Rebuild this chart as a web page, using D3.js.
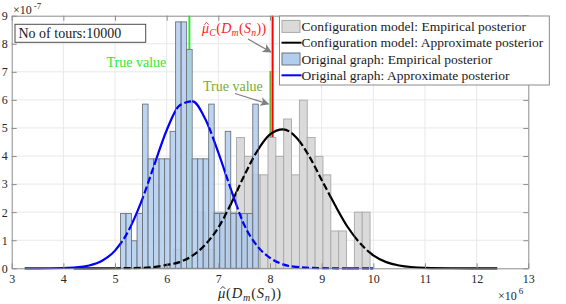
<!DOCTYPE html>
<html>
<head>
<meta charset="utf-8">
<script src="https://cdn.jsdelivr.net/npm/d3@7"></script>
<style>
body { margin: 0; background: #fff; }
text { font-family: "Liberation Serif", "Times New Roman", serif; }
</style>
</head>
<body>
<svg width="566" height="304"></svg>
<script>
// x in units of 1e6, y (density) in units of 1e-7

// Original graph: empirical posterior (25 bins)
var origBinStart = 5.106, origBinWidth = 0.1067;
var origHeights = [1.95, 1.95, 0.98, 1.95, 5.85, 3.90, 3.90, 3.90, 3.90, 4.88, 8.78, 8.78, 7.80,
                   3.90, 3.90, 3.90, 5.85, 1.95, 1.95, 4.88, 1.95, 1.95, 1.95, 1.95, 5.85];

// Configuration model: empirical posterior (25 bins)
var confBinStart = 6.137, confBinWidth = 0.152;
var confHeights = [0.67, 0, 0, 2.00, 0.67, 2.00, 2.00, 2.00, 4.66, 3.99, 3.33, 3.33, 4.66,
                   3.99, 5.32, 3.33, 5.99, 4.66, 3.99, 3.33, 1.33, 1.33, 0, 2.00, 2.00];

// Original graph: approximate posterior
var origCurveX = [3.25, 3.5, 4.0, 4.25, 4.5, 4.75, 5.0, 5.25, 5.5, 5.75, 6.0, 6.25, 6.5,
                  6.75, 7.0, 7.25, 7.5, 7.75, 8.0, 8.25, 8.5, 9.0, 9.5, 10.0];
var origCurveY = [0, 0, 0.01, 0.03, 0.10, 0.27, 0.63, 1.30, 2.33, 3.63, 4.92, 5.80, 5.95,
                  5.31, 4.12, 2.78, 1.55, 0.80, 0.37, 0.14, 0.05, 0.004, 0, 0];

// Configuration model: approximate posterior
var confCurveX = [4.2, 4.5, 5.0, 5.5, 5.75, 6.0, 6.25, 6.5, 6.75, 7.0, 7.25, 7.5, 7.75, 8.0,
                  8.25, 8.5, 8.75, 9.0, 9.25, 9.5, 9.75, 10.0, 10.25, 10.5, 11.0, 11.5, 12.0, 12.4];
var confCurveY = [0, 0, 0.002, 0.015, 0.045, 0.12, 0.22, 0.45, 0.85, 1.45, 2.32, 3.30, 4.17, 4.77,
                  4.95, 4.68, 4.02, 3.15, 2.28, 1.48, 0.88, 0.46, 0.22, 0.10, 0.015, 0.002, 0, 0];

var trueValueOrig = 6.44,   // green line
    trueValueConf = 8.01,   // olive line
    muHatC = 8.05;          // red line

var xTicks = [3, 4, 5, 6, 7, 8, 9, 10, 11, 12, 13];
var yTicks = [0, 1, 2, 3, 4, 5, 6, 7, 8, 9];
var legendLabels = ["Configuration model: Empirical posterior",
                    "Configuration model: Approximate posterior",
                    "Original graph: Empirical posterior",
                    "Original graph: Approximate posterior"];

var svg = d3.select("svg"),
    margin = {top: 15.7, right: 37.7, bottom: 35.7, left: 11.7},
    width = +svg.attr("width") - margin.left - margin.right,
    height = +svg.attr("height") - margin.top - margin.bottom,
    g = svg.append("g").attr("transform", "translate(" + margin.left + "," + margin.top + ")");

var x = d3.scaleLinear().domain([3, 13]).range([0, width]);
var y = d3.scaleLinear().domain([0, 9]).range([height, 0]);

var frameColor = "#8c8c8c", labelColor = "#262626";

function bins(start, w, heights) {
    return heights.map(function(h, i) { return {x0: start + i * w, x1: start + (i + 1) * w, h: h}; })
        .filter(function(d) { return d.h > 0; });
}
var origBins = bins(origBinStart, origBinWidth, origHeights),
    confBins = bins(confBinStart, confBinWidth, confHeights),
    allBins = confBins.concat(origBins);

// grid
g.append("g").selectAll("line").data(xTicks.slice(1, -1)).enter().append("line")
    .attr("x1", d => x(d)).attr("x2", d => x(d)).attr("y1", 0).attr("y2", height)
    .attr("stroke", "#e8e8e8");
g.append("g").selectAll("line").data(yTicks.slice(1, -1)).enter().append("line")
    .attr("y1", d => y(d)).attr("y2", d => y(d)).attr("x1", 0).attr("x2", width)
    .attr("stroke", "#e8e8e8");

// vertical reference lines (behind the bars)
g.append("line").attr("x1", x(trueValueOrig)).attr("x2", x(trueValueOrig))
    .attr("y1", y(0)).attr("y2", y(9)).attr("stroke", "#2ee82e").attr("stroke-width", 2);
g.append("line").attr("x1", x(muHatC)).attr("x2", x(muHatC))
    .attr("y1", y(0)).attr("y2", y(9)).attr("stroke", "#ff0000").attr("stroke-width", 2);
g.append("line").attr("x1", x(trueValueConf)).attr("x2", x(trueValueConf))
    .attr("y1", y(0)).attr("y2", y(7.03)).attr("stroke", "#77ac30").attr("stroke-width", 2);

// histograms
function drawBars(data, fill, opacity, stroke) {
    g.append("g").selectAll("rect").data(data).enter().append("rect")
        .attr("x", d => x(d.x0)).attr("width", d => x(d.x1) - x(d.x0))
        .attr("y", d => y(d.h)).attr("height", d => y(0) - y(d.h))
        .attr("fill", fill).attr("fill-opacity", opacity)
        .attr("stroke", stroke).attr("stroke-width", 0.9);
}
drawBars(confBins, "#dadada", 1, "#a8a8a8");
drawBars(origBins, "#b2cdee", 0.85, "#6c737c");

// curves: solid outside the bars, broken where they cross the bars
var defs = svg.append("defs");
var inBars = defs.append("clipPath").attr("id", "inBars");
inBars.selectAll("rect").data(allBins).enter().append("rect")
    .attr("x", d => x(d.x0)).attr("width", d => x(d.x1) - x(d.x0))
    .attr("y", d => y(d.h)).attr("height", d => y(0) - y(d.h) + 3);
var outBars = defs.append("mask").attr("id", "outBars").attr("maskUnits", "userSpaceOnUse")
    .attr("x", -20).attr("y", -20).attr("width", width + 40).attr("height", height + 40);
outBars.append("rect").attr("x", -20).attr("y", -20)
    .attr("width", width + 40).attr("height", height + 40).attr("fill", "#fff");
outBars.selectAll("rect.bar").data(allBins).enter().append("rect").attr("class", "bar")
    .attr("x", d => x(d.x0)).attr("width", d => x(d.x1) - x(d.x0))
    .attr("y", d => y(d.h)).attr("height", d => y(0) - y(d.h) + 3).attr("fill", "#000");

var line = d3.line().x(d => x(d[0])).y(d => y(d[1])).curve(d3.curveMonotoneX);

function drawCurve(xs, ys, color) {
    var pts = d3.zip(xs, ys);
    g.append("path").datum(pts).attr("d", line).attr("fill", "none")
        .attr("stroke", color).attr("stroke-width", 2.2).attr("mask", "url(#outBars)");
    g.append("path").datum(pts).attr("d", line).attr("fill", "none")
        .attr("stroke", color).attr("stroke-width", 2.2)
        .attr("stroke-dasharray", "7,3").attr("clip-path", "url(#inBars)");
}
drawCurve(confCurveX, confCurveY, "#000");
drawCurve(origCurveX, origCurveY, "#0000ff");

// axes
function styleAxis(sel) {
    sel.selectAll("path, line").attr("stroke", frameColor);
    sel.selectAll("text").attr("font-family", "Liberation Serif").attr("font-size", 12).attr("fill", labelColor);
}
g.append("g").attr("transform", "translate(0," + height + ")")
    .call(d3.axisBottom(x).tickValues(xTicks).tickSize(-5).tickSizeOuter(0).tickPadding(6))
    .call(styleAxis);
g.append("g")
    .call(d3.axisTop(x).tickValues(xTicks).tickSize(-5).tickSizeOuter(0).tickFormat(""))
    .call(styleAxis);
g.append("g")
    .call(d3.axisLeft(y).tickValues(yTicks).tickSize(-5).tickSizeOuter(0).tickPadding(4))
    .call(styleAxis);
g.append("g").attr("transform", "translate(" + width + ",0)")
    .call(d3.axisRight(y).tickValues(yTicks).tickSize(-5).tickSizeOuter(0).tickFormat(""))
    .call(styleAxis);

// exponent labels
var e1 = svg.append("text").attr("x", 13).attr("y", 13.5).attr("font-size", 12).attr("fill", labelColor);
e1.append("tspan").text("\u00d710");
e1.append("tspan").attr("font-size", 9).attr("dx", 2).attr("dy", -5).text("-7");
var e2 = svg.append("text").attr("x", 498).attr("y", 300).attr("font-size", 12).attr("fill", labelColor);
e2.append("tspan").text("\u00d710");
e2.append("tspan").attr("font-size", 9).attr("dx", 2).attr("dy", -6).text("6");

// math label: mu-hat [sub] ( D_m ( S_n ) ), hat drawn as a small stroke
function muLabel(px, py, size, color, sub, spacing) {
    var t = svg.append("text").attr("x", px).attr("y", py).attr("font-size", size)
        .attr("fill", color).attr("letter-spacing", spacing || 0);
    t.append("tspan").attr("font-style", "italic").text("\u03bc");
    var s = size * 0.7;
    if (sub) {
        t.append("tspan").attr("font-style", "italic").attr("font-size", s)
            .attr("dy", size * 0.23).text(sub);
        t.append("tspan").attr("dy", -size * 0.23).text("(");
    } else {
        t.append("tspan").text("(");
    }
    t.append("tspan").attr("font-style", "italic").text("D");
    t.append("tspan").attr("font-style", "italic").attr("font-size", s).attr("dy", size * 0.22).text("m");
    t.append("tspan").attr("dy", -size * 0.22).text("(");
    t.append("tspan").attr("font-style", "italic").text("S");
    t.append("tspan").attr("font-style", "italic").attr("font-size", s).attr("dy", size * 0.22).text("n");
    t.append("tspan").attr("dy", -size * 0.22).text("))");

    var ext = t.node().getExtentOfChar(0),
        cx = ext.x + ext.width / 2 + size * 0.06,
        hw = size * 0.16;
    svg.append("path")
        .attr("d", "M" + (cx - hw) + "," + (py - size * 0.6) + "L" + cx + "," + (py - size * 0.76) +
                   "L" + (cx + hw) + "," + (py - size * 0.6))
        .attr("fill", "none").attr("stroke", color).attr("stroke-width", 0.9);
    return t;
}
muLabel(218, 297.5, 14.5, labelColor, null, 0.8);
muLabel(202, 33, 14, "#ff1a1a", "C", 0.3);

// arrowheads
defs.append("marker").attr("id", "arrow").attr("viewBox", "0 0 10 10")
    .attr("refX", 9).attr("refY", 5).attr("markerWidth", 9).attr("markerHeight", 9)
    .attr("markerUnits", "userSpaceOnUse").attr("orient", "auto")
  .append("path").attr("d", "M0,0 L10,5 L0,10 L2.5,5 z").attr("fill", "#808080");

function arrow(x1, y1, x2, y2) {
    svg.append("line").attr("x1", x1).attr("y1", y1).attr("x2", x2).attr("y2", y2)
        .attr("stroke", "#808080").attr("stroke-width", 1.3).attr("marker-end", "url(#arrow)");
}
arrow(248, 39, 271, 52);
arrow(235, 93.5, 268.5, 104);

// text annotations
svg.append("text").attr("x", 106.5).attr("y", 66.5).attr("font-size", 14)
    .attr("fill", "#2ee82e").text("True value");
svg.append("text").attr("x", 203).attr("y", 91).attr("font-size", 14)
    .attr("fill", "#77ac30").text("True value");

svg.append("rect").attr("x", 15).attr("y", 24.3).attr("width", 130.7).attr("height", 18)
    .attr("fill", "#fff").attr("stroke", "#4d4d4d").attr("stroke-width", 1);
svg.append("text").attr("x", 18.5).attr("y", 38.3).attr("font-size", 14)
    .attr("fill", "#1a1a1a").text("No of tours:10000");

// legend
var legend = svg.append("g").attr("transform", "translate(279.5,16)");
var legendBox = legend.append("rect").attr("x", 0).attr("y", 0).attr("height", 69)
    .attr("fill", "#fff").attr("stroke", "#8c8c8c").attr("stroke-width", 1);
var rows = legend.selectAll("g.row").data(legendLabels).enter().append("g")
    .attr("transform", (d, i) => "translate(0," + (10.4 + i * 16.3) + ")");
rows.filter((d, i) => i === 0).append("rect").attr("x", 2.5).attr("y", -6).attr("width", 18).attr("height", 12)
    .attr("fill", "#dadada").attr("stroke", "#a8a8a8");
rows.filter((d, i) => i === 2).append("rect").attr("x", 2.5).attr("y", -6).attr("width", 18).attr("height", 12)
    .attr("fill", "#b2cdee").attr("stroke", "#6c737c");
rows.filter((d, i) => i === 1).append("line").attr("x1", 2).attr("x2", 22)
    .attr("stroke", "#000").attr("stroke-width", 2);
rows.filter((d, i) => i === 3).append("line").attr("x1", 2).attr("x2", 22)
    .attr("stroke", "#0000ff").attr("stroke-width", 2);
var legendText = rows.append("text").attr("x", 22).attr("dy", "0.35em")
    .attr("font-size", 13.5).attr("fill", "#1a1a1a").text(d => d);
var maxW = d3.max(legendText.nodes(), n => n.getComputedTextLength());
legendBox.attr("width", 22 + maxW + 6);
</script>
</body>
</html>
